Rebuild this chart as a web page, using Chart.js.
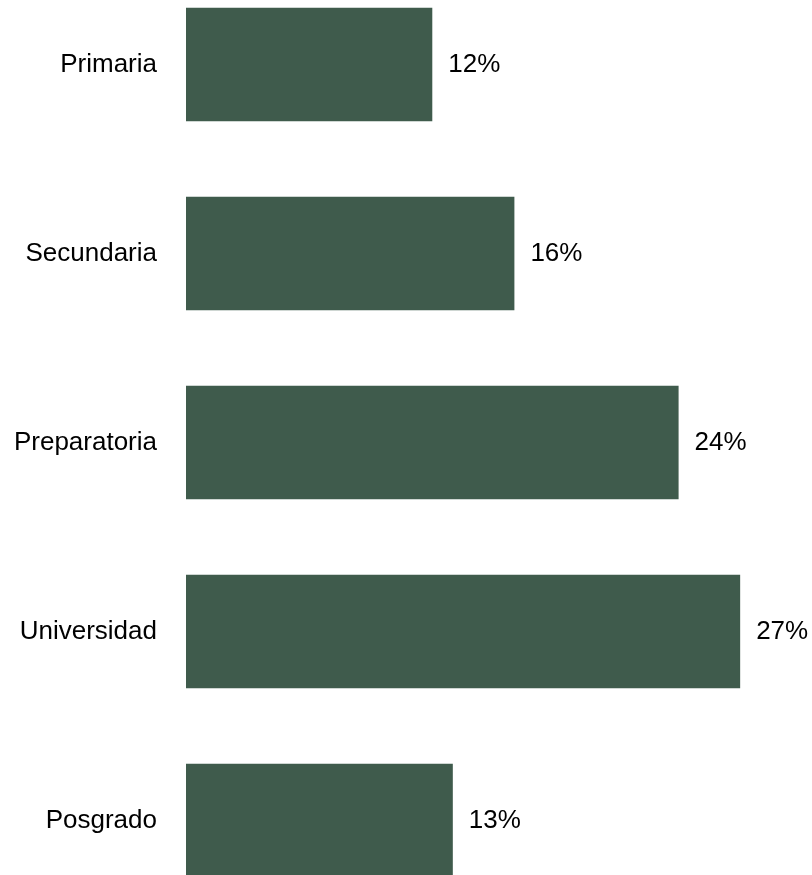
<!DOCTYPE html>
<html>
<head>
<meta charset="utf-8">
<script src="https://cdn.jsdelivr.net/npm/chart.js@4/dist/chart.umd.min.js"></script>
<style>
  html, body { margin: 0; padding: 0; background: #fff; overflow: hidden; width: 812px; height: 875px; }
  #myChart { position: absolute; left: 0; top: -30px; }
</style>
</head>
<body>
<canvas id="myChart" width="812" height="945"></canvas>
<script>
let categories = ['Primaria', 'Secundaria', 'Preparatoria', 'Universidad', 'Posgrado'];
let shares = [12, 16, 24, 27, 13];
let valueLabels = ['12%', '16%', '24%', '27%', '13%'];

let fontFamily = "'Liberation Sans Narrow', 'Arial Narrow', 'Liberation Sans', Arial, sans-serif";
let fontSize = 26;

// writes the percent next to each bar
let barValues = {
    id: 'barValues',
    afterDatasetsDraw: (chart) => {
        let ctx = chart.ctx;
        let meta = chart.getDatasetMeta(0);
        ctx.save();
        ctx.font = fontSize + 'px ' + fontFamily;
        ctx.fillStyle = '#000';
        ctx.textAlign = 'left';
        ctx.textBaseline = 'middle';
        meta.data.forEach((bar, i) => {
            ctx.fillText(valueLabels[i], bar.x + 16, bar.y);
        });
        ctx.restore();
    }
};

let ctx = document.getElementById('myChart').getContext('2d');
let chart = new Chart(ctx, {
    type: 'bar',
    data: {
        labels: categories,
        datasets: [{
            data: shares,
            backgroundColor: '#3f5b4c',
            borderWidth: 0,
            barPercentage: 0.6,
            categoryPercentage: 1.0
        }]
    },
    options: {
        indexAxis: 'y',
        responsive: false,
        animation: false,
        devicePixelRatio: 1,
        layout: { padding: 0 },
        plugins: {
            legend: { display: false },
            tooltip: { enabled: false }
        },
        scales: {
            x: {
                display: false,
                min: 0,
                max: 30.5
            },
            y: {
                grid: { display: false, drawTicks: false },
                border: { display: false },
                ticks: {
                    color: '#000',
                    padding: 29,
                    font: { family: fontFamily, size: fontSize }
                },
                afterFit: (scale) => {
                    scale.width = 186;
                    // no extra room above/below for the labels
                    scale.paddingTop = 0;
                    scale.paddingBottom = 0;
                }
            }
        }
    },
    plugins: [barValues]
});
</script>
</body>
</html>
